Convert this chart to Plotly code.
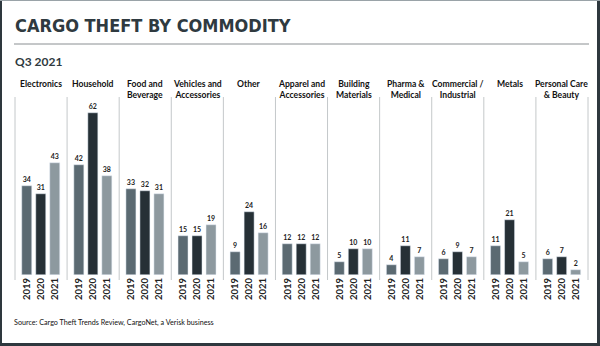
import plotly.graph_objects as go
from plotly.subplots import make_subplots

categories = ["Electronics", "Household", "Food and<br>Beverage", "Vehicles and<br>Accessories",
              "Other", "Apparel and<br>Accessories", "Building<br>Materials", "Pharma &<br>Medical",
              "Commercial /<br>Industrial", "Metals", "Personal Care<br>& Beauty"]
years = ["2019", "2020", "2021"]
v2019 = [34, 42, 33, 15, 9, 12, 5, 4, 6, 11, 6]
v2020 = [31, 62, 32, 15, 24, 12, 10, 11, 9, 21, 7]
v2021 = [43, 38, 31, 19, 16, 12, 10, 7, 7, 5, 2]
colors = ["#5b6a72", "#263036", "#8d999f"]

W, H = 600, 346
ML, MR, MT, MB = 15, 12, 92, 71
PW = W - ML - MR
PH = H - MT - MB
n = len(categories)

def px_x(px):
    return (px - ML) / PW

def px_y(py):
    return (H - MB - py) / PH

fig = make_subplots(rows=1, cols=n, horizontal_spacing=0, shared_yaxes=True)
FONT = "Lato"
for i in range(n):
    vals = [v2019[i], v2020[i], v2021[i]]
    fig.add_trace(go.Bar(
        x=years, y=vals, marker_color=colors, width=0.7,
        text=[str(v) for v in vals], textposition="outside",
        textfont=dict(size=7, color="#222", family=FONT, weight="bold"),
        cliponaxis=False, showlegend=False,
    ), row=1, col=i + 1)
    fig.update_xaxes(range=[-0.86, 2.86], tickangle=-90, showgrid=False, showline=False,
                     ticks="", tickfont=dict(size=9.5, color="#222", family=FONT, weight="bold"),
                     row=1, col=i + 1)

fig.update_yaxes(range=[0, PH / 2.61], visible=False, showgrid=False)

shapes = []
for i in range(n + 1):
    shapes.append(dict(type="line", xref="paper", yref="paper",
                       x0=i / n, x1=i / n, y0=px_y(280), y1=px_y(97),
                       line=dict(color="#c4c8ca", width=1)))
# title rule
shapes.append(dict(type="line", xref="paper", yref="paper",
                   x0=px_x(14), x1=px_x(589), y0=px_y(44), y1=px_y(44),
                   line=dict(color="#8a8f92", width=1)))
# frame
frame = "#2e383e"
shapes += [
    dict(type="line", xref="paper", yref="paper", x0=px_x(1), x1=px_x(1), y0=px_y(0), y1=px_y(346), line=dict(color=frame, width=2)),
    dict(type="line", xref="paper", yref="paper", x0=px_x(598.5), x1=px_x(598.5), y0=px_y(0), y1=px_y(346), line=dict(color=frame, width=3)),
    dict(type="line", xref="paper", yref="paper", x0=px_x(0), x1=px_x(600), y0=px_y(344.5), y1=px_y(344.5), line=dict(color=frame, width=3)),
    dict(type="line", xref="paper", yref="paper", x0=px_x(0), x1=px_x(600), y0=px_y(0.5), y1=px_y(0.5), line=dict(color="#9aa3a8", width=1)),
]

annotations = []
for i, c in enumerate(categories):
    annotations.append(dict(text=c, xref="paper", yref="paper", x=(i + 0.5) / n, y=px_y(77),
                            xanchor="center", yanchor="top", showarrow=False, align="center",
                            font=dict(size=8.6, color="#111", family=FONT, weight="bold")))
annotations.append(dict(text="CARGO THEFT BY COMMODITY", xref="paper", yref="paper",
                        x=px_x(13), y=px_y(25.5), xanchor="left", yanchor="middle", showarrow=False,
                        font=dict(size=18, color="#2f3a40", family="DejaVu Sans Condensed, Roboto Condensed, Roboto",
                                  weight="bold")))
annotations.append(dict(text="Q3 2021", xref="paper", yref="paper",
                        x=px_x(13), y=px_y(61.5), xanchor="left", yanchor="middle", showarrow=False,
                        font=dict(size=12, color="#2f3a40", family=FONT, weight="bold")))
annotations.append(dict(text="Source: Cargo Theft Trends Review, CargoNet, a Verisk business",
                        xref="paper", yref="paper", x=px_x(12), y=px_y(322.5), xanchor="left",
                        yanchor="middle", showarrow=False,
                        font=dict(size=7.2, color="#111", family=FONT)))

fig.update_layout(width=W, height=H, margin=dict(l=ML, r=MR, t=MT, b=MB),
                  paper_bgcolor="white", plot_bgcolor="white", bargap=0,
                  shapes=shapes, annotations=annotations)
fig.write_html("out.html")
